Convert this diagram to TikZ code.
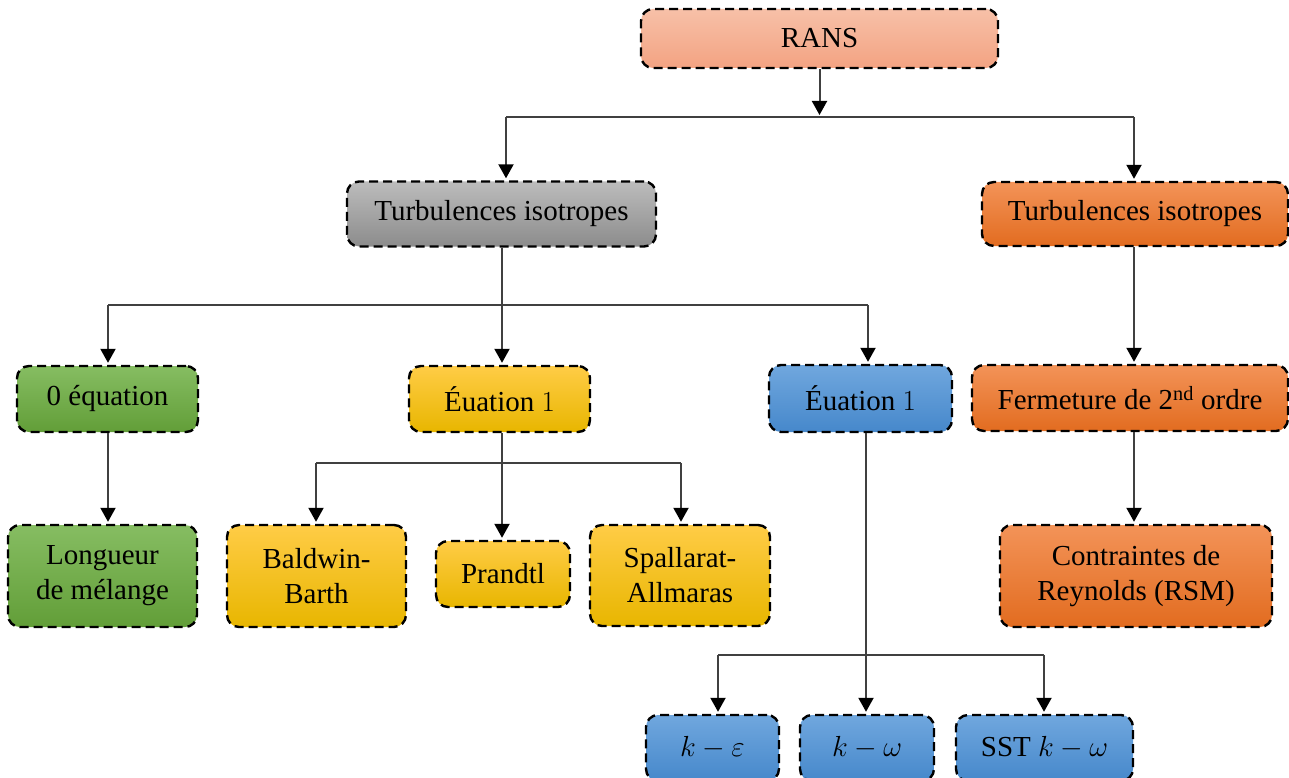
\documentclass[tikz,border=0pt]{standalone}
\usepackage{graphicx}
\usepackage{fontspec}
\setmainfont{Liberation Serif}
\usetikzlibrary{arrows.meta}

% math set at 20.74pt and enlarged to the 29pt text size
\newcommand{\bigmath}[1]{\scalebox{1.4}{\fontsize{20.74}{25}\selectfont$#1$}}

\definecolor{linegray}{RGB}{64,64,64}
\definecolor{salmonT}{RGB}{247,192,168}
\definecolor{salmonB}{RGB}{243,163,130}
\definecolor{grayT}{RGB}{188,188,188}
\definecolor{grayB}{RGB}{140,140,140}
\definecolor{orangeT}{RGB}{243,147,88}
\definecolor{orangeB}{RGB}{226,108,32}
\definecolor{greenT}{RGB}{134,189,98}
\definecolor{greenB}{RGB}{98,158,56}
\definecolor{yellowT}{RGB}{255,204,70}
\definecolor{yellowM}{RGB}{255,192,0}
\definecolor{yellowB}{RGB}{232,182,0}
\definecolor{blueT}{RGB}{112,167,222}
\definecolor{blueB}{RGB}{70,136,203}

\begin{document}
\begin{tikzpicture}[x=1pt,y=-1pt,
  box/.style={draw=black, line width=2.4pt, dash pattern=on 9pt off 5pt,
    rounded corners=12pt, inner sep=0pt, align=center,
    font=\fontsize{29}{35}\selectfont, text=black},
  salmonbox/.style={box, top color=salmonT, bottom color=salmonB},
  graybox/.style={box, top color=grayT, bottom color=grayB},
  orangebox/.style={box, top color=orangeT, bottom color=orangeB},
  greenbox/.style={box, top color=greenT, bottom color=greenB},
  yellowbox/.style={box, top color=yellowT, middle color=yellowM, bottom color=yellowB},
  bluebox/.style={box, top color=blueT, bottom color=blueB},
  conn/.style={draw=linegray, line width=2pt},
  arr/.style={conn, -{Triangle[length=14pt,width=15pt,color=black]}, shorten >=2pt}]

\useasboundingbox (0,0) rectangle (1289,778);
\clip (0,0) rectangle (1289,778);

% top level
\node[salmonbox, minimum width=357pt, minimum height=59pt] (rans) at (819.5,38.5) {RANS};

% second level
\node[graybox, minimum width=309pt, minimum height=65pt] (tg) at (501.5,214) {Turbulences isotropes};
\node[orangebox, minimum width=306pt, minimum height=64pt] (to) at (1135,214) {Turbulences isotropes};

% third level
\node[greenbox, minimum width=181pt, minimum height=66pt] (eq0) at (107.5,399) {0 équation};
\node[yellowbox, minimum width=181pt, minimum height=66pt] (eqy) at (499.5,399) {Éuation \bigmath{1}};
\node[bluebox, minimum width=183pt, minimum height=67pt] (eqb) at (860.5,398.5) {Éuation \bigmath{1}};
\node[orangebox, minimum width=316pt, minimum height=66pt] (ferm) at (1130,398) {Fermeture de 2\textsuperscript{nd} ordre};

% fourth level
\node[greenbox, minimum width=189pt, minimum height=102pt] (long) at (102.5,576) {Longueur\\de mélange};
\node[yellowbox, minimum width=179pt, minimum height=102pt] (bald) at (316.5,576) {Baldwin-\\Barth};
\node[yellowbox, minimum width=134pt, minimum height=66pt] (pran) at (503,574) {Prandtl};
\node[yellowbox, minimum width=180pt, minimum height=101pt] (spal) at (680,575.5) {Spallarat-\\Allmaras};
\node[orangebox, minimum width=272pt, minimum height=102pt] (cont) at (1136,576) {Contraintes de\\Reynolds (RSM)};

% k-type models
\node[bluebox, minimum width=133pt, minimum height=66pt] (ke) at (712.5,748) {\bigmath{k-\varepsilon}};
\node[bluebox, minimum width=134pt, minimum height=66pt] (kw) at (867,748) {\bigmath{k-\omega}};
\node[bluebox, minimum width=177pt, minimum height=66pt] (sst) at (1044.5,748) {SST \bigmath{k-\omega}};

% bus levels
\coordinate (a1) at (506,117);
\coordinate (a2) at (1134,117);
\coordinate (b1) at (108,305);
\coordinate (b2) at (502,305);
\coordinate (b3) at (868,305);
\coordinate (c1) at (316,463);
\coordinate (c2) at (502,463);
\coordinate (c3) at (681,463);
\coordinate (d1) at (718,655);
\coordinate (d2) at (866,655);
\coordinate (d3) at (1044,655);

% RANS branches
\draw[arr] (rans.south) -- (rans.south |- a1);
\draw[conn] (a1) -- (a2);
\draw[arr] (a1) -- (a1 |- tg.north);
\draw[arr] (a2) -- (a2 |- to.north);

% isotropic branch
\draw[conn] (b2 |- tg.south) -- (b2);
\draw[conn] (b1) -- (b3);
\draw[arr] (b1) -- (b1 |- eq0.north);
\draw[arr] (b2) -- (b2 |- eqy.north);
\draw[arr] (b3) -- (b3 |- eqb.north);

\draw[arr] (b1 |- eq0.south) -- (b1 |- long.north);

% one-equation models
\draw[conn] (c2 |- eqy.south) -- (c2);
\draw[conn] (c1) -- (c3);
\draw[arr] (c1) -- (c1 |- bald.north);
\draw[arr] (c2) -- (c2 |- pran.north);
\draw[arr] (c3) -- (c3 |- spal.north);

% two-equation models
\draw[conn] (d2 |- eqb.south) -- (d2);
\draw[conn] (d1) -- (d3);
\draw[arr] (d1) -- (d1 |- ke.north);
\draw[arr] (d2) -- (d2 |- kw.north);
\draw[arr] (d3) -- (d3 |- sst.north);

% anisotropic branch
\draw[arr] (a2 |- to.south) -- (a2 |- ferm.north);
\draw[arr] (a2 |- ferm.south) -- (a2 |- cont.north);

\end{tikzpicture}
\end{document}
